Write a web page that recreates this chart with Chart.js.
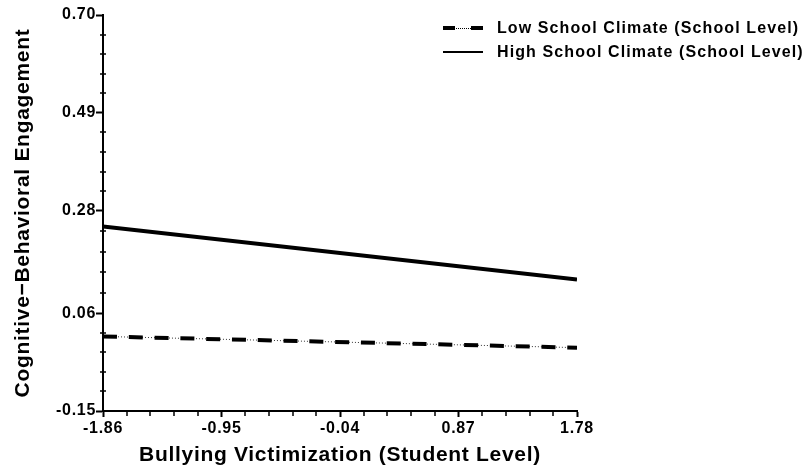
<!DOCTYPE html>
<html>
<head>
<meta charset="utf-8">
<title>Cognitive-Behavioral Engagement</title>
<script src="https://cdn.jsdelivr.net/npm/chart.js@4.4.1/dist/chart.umd.min.js"></script>
<style>
  html, body { margin: 0; padding: 0; background: #fff; }
  #wrap { position: relative; width: 808px; height: 469px; }
  #legend {
    position: absolute; left: 443px; top: 16px;
    font: bold 16px "Liberation Sans", Arial, sans-serif;
    letter-spacing: 1.1px; color: #000; white-space: nowrap;
  }
  .item { display: flex; align-items: center; height: 24px; }
  .sample { position: relative; width: 40px; height: 4px; margin-right: 14px; }
  .sample.low::before {
    content: ""; position: absolute; left: 0; right: 0; top: 1.5px;
    border-top: 1px dotted #000;
  }
  .sample.low span { position: absolute; top: 0; width: 12px; height: 4px; background: #000; }
  .sample.low span:last-child { right: 0; }
  .sample.high::before {
    content: ""; position: absolute; left: 0; right: 0; top: 1.25px;
    height: 1.5px; background: #000;
  }
</style>
</head>
<body>
<div id="wrap">
  <canvas id="chart" width="808" height="469"></canvas>
  <div id="legend"></div>
</div>
<script>
const xTicks = [-1.86, -0.95, -0.04, 0.87, 1.78];
const yTicks = [-0.15, 0.06, 0.28, 0.49, 0.70];

const victimization = [-1.86, 1.78];
const lowClimate = [0.010, -0.014];
const highClimate = [0.246, 0.132];

const seriesNames = ["Low School Climate (School Level)", "High School Climate (School Level)"];

function points(values) {
    return values.map((v, i) => ({ x: victimization[i], y: v }));
}

// 4 small ticks between every pair of labelled ticks
const minorTicks = {
    id: "minorTicks",
    afterDraw(chart) {
        const { ctx, chartArea, scales } = chart;
        ctx.save();
        ctx.strokeStyle = "#000";
        ctx.lineWidth = 1.5;
        ctx.beginPath();
        for (let i = 0; i < xTicks.length - 1; i++) {
            for (let k = 1; k < 5; k++) {
                const px = Math.round(scales.x.getPixelForValue(xTicks[i] + (xTicks[i + 1] - xTicks[i]) * k / 5));
                ctx.moveTo(px, chartArea.bottom);
                ctx.lineTo(px, chartArea.bottom + 5);
            }
        }
        for (let i = 0; i < yTicks.length - 1; i++) {
            for (let k = 1; k < 5; k++) {
                const py = Math.round(scales.y.getPixelForValue(yTicks[i] + (yTicks[i + 1] - yTicks[i]) * k / 5));
                ctx.moveTo(chartArea.left - 3, py);
                ctx.lineTo(chartArea.left + 3, py);
            }
        }
        ctx.stroke();
        ctx.restore();
    }
};

// the original text is set a little wide
const wideText = {
    id: "wideText",
    beforeUpdate(chart) { chart.ctx.letterSpacing = "0.7px"; },
    beforeDraw(chart) { chart.ctx.letterSpacing = "0.7px"; }
};

Chart.defaults.font.family = '"Liberation Sans", Arial, sans-serif';
Chart.defaults.color = "#000";

function initChart() {
    const ctx = document.getElementById("chart").getContext("2d");

    new Chart(ctx, {
        type: "line",
        data: {
            datasets: [{
                label: seriesNames[0],
                data: points(lowClimate),
                borderColor: "#000",
                borderWidth: 4,
                borderDash: [14, 11.8],
                pointRadius: 0
            }, {
                label: seriesNames[0] + " (dots)",
                data: points(lowClimate),
                borderColor: "#333",
                borderWidth: 1,
                borderDash: [1, 2],
                pointRadius: 0
            }, {
                label: seriesNames[1],
                data: points(highClimate),
                borderColor: "#000",
                borderWidth: 4,
                pointRadius: 0
            }]
        },
        options: {
            responsive: false,
            animation: false,
            layout: { padding: { top: 15, right: 231, bottom: 0, left: 0 } },
            plugins: { legend: { display: false }, tooltip: { enabled: false } },
            scales: {
                x: {
                    type: "linear",
                    min: xTicks[0],
                    max: xTicks[xTicks.length - 1],
                    afterBuildTicks: s => { s.ticks = xTicks.map(v => ({ value: v })); },
                    afterFit: s => { s.height = 58; },
                    border: { color: "#000", width: 2 },
                    grid: { drawOnChartArea: false, tickLength: 6, tickColor: "#000", tickWidth: 2 },
                    ticks: {
                        font: { size: 16, weight: "bold" },
                        padding: 2,
                        maxRotation: 0,
                        callback: (v, i) => xTicks[i].toFixed(2)
                    },
                    title: {
                        display: true,
                        text: "Bullying Victimization (Student Level)",
                        font: { size: 21, weight: "bold" },
                        padding: { top: 0, bottom: 1 }
                    }
                },
                y: {
                    min: yTicks[0],
                    max: yTicks[yTicks.length - 1],
                    afterBuildTicks: s => { s.ticks = yTicks.map(v => ({ value: v })); },
                    afterFit: s => { s.width = 103; },
                    border: { color: "#000", width: 2 },
                    grid: { drawOnChartArea: false, tickLength: 7, tickColor: "#000", tickWidth: 2 },
                    ticks: {
                        font: { size: 16, weight: "bold" },
                        padding: 0,
                        callback: (v, i) => yTicks[i].toFixed(2)
                    },
                    title: {
                        display: true,
                        text: "Cognitive\u2212Behavioral Engagement",
                        font: { size: 21, weight: "bold" },
                        padding: { top: 11, bottom: 0 }
                    }
                }
            }
        },
        plugins: [wideText, minorTicks]
    });

    const legend = document.getElementById("legend");
    seriesNames.forEach((name, i) => {
        const item = document.createElement("div");
        item.className = "item";
        const sample = document.createElement("div");
        sample.className = "sample " + (i === 0 ? "low" : "high");
        if (i === 0) sample.innerHTML = "<span></span><span></span>";
        const text = document.createElement("span");
        text.textContent = name;
        item.appendChild(sample);
        item.appendChild(text);
        legend.appendChild(item);
    });
}

initChart();
</script>
</body>
</html>
